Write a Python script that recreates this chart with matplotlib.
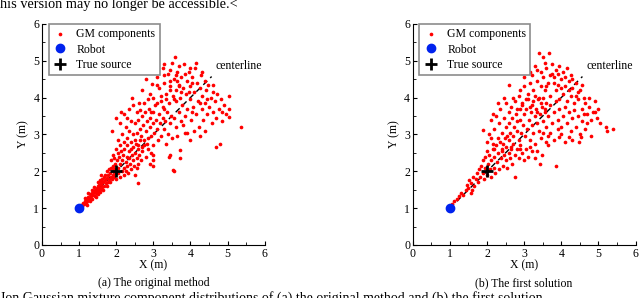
import numpy as np
import matplotlib
matplotlib.use('Agg')
import matplotlib.pyplot as plt

plt.rcParams['font.family'] = ['Liberation Serif', 'DejaVu Serif']

# GM components, panel (a)
gm_a = [
    (1.05,1.08),(1.08,1.05),(1.1,1.15),(1.12,1.1),(1.15,1.2),(1.18,1.14),(1.2,1.25),(1.22,1.18),(1.25,1.3),(1.27,1.22),
    (1.3,1.28),(1.3,1.38),(1.33,1.32),(1.35,1.25),(1.36,1.42),(1.38,1.35),(1.4,1.45),(1.42,1.32),(1.43,1.5),(1.45,1.4),
    (1.47,1.55),(1.48,1.45),(1.5,1.38),(1.5,1.6),(1.52,1.5),(1.54,1.62),(1.55,1.45),(1.57,1.55),(1.58,1.7),(1.6,1.52),
    (1.6,1.65),(1.62,1.78),(1.63,1.58),(1.65,1.7),(1.66,1.85),(1.68,1.6),(1.7,1.75),(1.7,1.9),(1.72,1.68),(1.74,1.82),
    (1.75,2.0),(1.77,1.72),(1.78,1.9),(1.8,1.8),(1.8,2.05),(1.82,1.7),(1.84,1.95),(1.85,1.85),(1.86,2.1),(1.88,1.78),
    (1.9,2.0),(1.9,1.9),(1.92,2.15),(1.94,1.85),(1.95,2.05),(1.97,1.95),(1.98,2.2),(1.25,1.4),(1.4,1.58),(1.55,1.75),
    (1.45,1.3),(1.65,1.5),(1.2,1.08),(1.35,1.5),(1.6,1.9),(1.3,1.18),(1.75,1.6),(1.5,1.7),(1.15,1.28),
    (2.0,1.8),(2.02,2.3),(2.05,2.1),(2.05,1.95),(2.08,2.4),(2.1,2.2),(2.1,1.85),(2.12,2.55),(2.15,2.0),(2.15,2.3),
    (2.18,2.45),(2.2,2.1),(2.2,1.9),(2.22,2.6),(2.25,2.25),(2.25,2.0),(2.28,2.4),(2.3,2.15),(2.3,2.7),(2.32,1.95),
    (2.35,2.35),(2.35,2.55),(2.38,2.2),(2.4,2.8),(2.4,2.05),(2.42,2.45),(2.45,2.3),(2.45,2.65),(2.48,2.15),(2.5,2.5),
    (2.5,1.9),(2.52,2.75),(2.55,2.35),(2.58,2.6),(2.6,2.2),(2.58,1.67),(2.62,2.45),(2.65,2.85),(2.68,2.3),(2.7,2.55),
    (2.55,2.08),(2.75,2.7),(2.8,2.4),(2.85,2.6),(2.9,2.2),(2.95,2.5),(3.0,2.3),(3.0,2.14),(1.95,2.35),(1.9,2.45),
    (1.85,2.3),(2.0,2.6),(2.1,2.7),(2.05,2.5),(2.98,2.43),(3.44,2.43),(3.52,2.03),(3.71,2.35),
    (2.3,2.9),(2.35,3.1),(2.4,2.6),(2.45,3.0),(2.5,3.3),(2.5,2.85),(2.55,3.05),(2.6,3.4),(2.6,2.7),(2.65,3.15),
    (2.68,2.95),(2.7,3.5),(2.72,3.25),(2.75,2.85),(2.78,3.6),(2.8,3.1),(2.82,3.35),(2.85,2.9),(2.88,3.7),(2.9,3.2),
    (2.92,3.45),(2.95,2.95),(2.98,3.3),(3.0,3.6),(3.0,2.7),(3.03,3.05),(3.05,3.8),(3.08,3.4),(3.1,3.15),(3.12,2.85),
    (3.15,3.55),(3.18,3.3),(3.2,3.9),(3.2,2.95),(3.25,3.45),(3.28,3.7),(3.3,3.15),(3.32,3.35),(3.35,2.75),(3.38,3.6),
    (3.4,3.0),(3.42,3.85),(3.45,3.3),(3.48,3.5),(3.5,2.9),(2.2,2.8),(2.25,3.2),(2.15,3.0),(2.1,3.3),(2.0,3.45),
    (2.05,2.85),(1.88,3.1),(2.3,3.45),(2.4,3.35),(2.55,3.6),(2.2,3.55),(2.45,3.8),(2.62,3.85),(2.35,3.7),(2.12,3.6),
    (2.7,2.65),(2.82,2.75),
    (3.58,5.1),(3.06,4.7),(2.96,4.38),(2.42,4.0),(2.7,4.2),(2.8,4.5),(2.9,4.1),(3.1,4.55),(3.15,4.25),(3.2,4.05),
    (3.25,4.8),(3.3,4.4),(3.35,4.1),(3.4,4.65),(3.45,4.3),(3.5,4.95),(3.52,4.05),(3.55,4.5),(3.6,4.2),(3.62,3.9),
    (3.65,4.7),(3.68,4.35),(3.7,3.6),(3.72,4.0),(3.75,4.55),(3.78,3.8),(3.8,4.25),(3.82,4.9),(3.85,3.5),(3.88,4.1),
    (3.9,4.45),(3.92,3.7),(3.95,4.7),(3.98,3.95),(4.0,4.3),(4.02,3.4),(4.05,4.55),(4.08,3.75),(4.1,4.15),(4.12,4.8),
    (4.15,3.55),(4.18,4.4),(4.2,3.9),(4.22,3.2),(4.25,4.25),(4.28,4.6),(4.3,3.7),(4.32,4.05),(4.35,3.4),(4.38,4.45),
    (4.4,3.85),(4.42,4.2),(4.45,3.55),(4.48,4.35),(4.5,3.75),(4.55,4.0),(4.58,3.3),(4.6,4.15),(4.62,3.6),(4.65,3.9),
    (4.7,3.45),(4.72,4.1),(4.78,3.7),(4.82,3.95),(4.85,3.35),(4.9,3.8),(4.95,3.55),(5.05,4.03),(5.05,3.68),(5.03,3.46),
    (5.35,3.2),(4.68,2.65),(4.79,2.73),(4.38,3.08),(3.98,2.84),(3.71,2.57),(3.55,2.0),(3.41,2.4),(3.6,3.2),(3.65,2.95),
    (3.8,3.25),(3.9,3.05),(3.55,3.45),(3.75,3.35),(4.1,3.1),(4.25,2.95),(3.3,4.9),(3.45,4.75),(3.7,4.85),(4.0,4.8),
    (4.3,4.7),(3.6,4.6),(3.35,3.95),(2.85,3.95),(3.0,4.0),(3.1,3.85),(2.65,3.65),(4.15,4.95),
    (3.3,4.6),(3.45,4.45),(3.65,4.45),(3.85,4.65),(4.05,4.4),(3.95,4.15),(3.75,4.15),(3.55,3.95),(3.25,3.75),(2.95,3.6),
    (3.85,3.05),(4.05,3.6),(4.25,3.85),(4.45,3.95),(4.6,4.35),(4.85,3.6),(3.1,4.35),(2.75,3.85),(3.45,4.2),(3.7,4.3),
]

# GM components, panel (b)
gm_b = [
    (1.05,1.1),(1.12,1.2),(1.2,1.25),(1.25,1.32),(1.3,1.4),(1.35,1.35),(1.42,1.5),(1.45,1.62),(1.5,1.55),(1.52,1.75),
    (1.58,1.68),(1.6,1.48),(1.62,1.85),(1.65,1.6),(1.7,1.78),(1.72,1.95),(1.75,1.7),(1.78,2.05),(1.8,1.85),(1.85,2.15),
    (1.88,1.95),(1.9,2.3),(1.92,1.8),(1.95,2.1),(1.58,1.4),
    (2.0,1.9),(2.02,2.2),(2.05,2.45),(2.08,2.05),(2.1,1.85),(2.12,2.3),(2.15,2.6),(2.18,2.1),(2.2,2.4),(2.22,1.95),
    (2.25,2.7),(2.28,2.25),(2.3,2.5),(2.32,2.05),(2.35,2.8),(2.38,2.35),(2.4,2.6),(2.42,2.15),(2.45,2.45),(2.48,2.9),
    (2.5,2.3),(2.52,2.65),(2.55,2.1),(2.58,2.5),(2.6,2.85),(2.62,2.35),(2.65,2.6),(2.68,2.2),(2.7,2.75),(2.74,1.84),
    (2.75,2.45),(2.8,2.6),(2.85,2.35),(2.9,2.7),(2.95,2.5),(3.0,2.3),(3.05,2.6),(3.1,2.4),(3.2,2.55),(3.3,2.35),
    (3.47,2.43),(3.44,2.19),(3.87,2.14),(2.0,2.55),(1.95,2.4),
    (1.9,3.13),(2.0,2.8),(2.05,3.0),(2.1,3.4),(2.15,2.75),(2.2,3.15),(2.25,3.5),(2.3,2.9),(2.32,3.3),(2.35,3.7),
    (2.4,3.05),(2.42,2.75),(2.45,3.45),(2.5,3.2),(2.52,3.85),(2.55,2.95),(2.58,3.6),(2.6,3.3),(2.62,3.05),(2.65,3.75),
    (2.68,3.45),(2.7,2.95),(2.72,3.2),(2.75,3.9),(2.78,3.55),(2.8,3.1),(2.82,3.35),(2.85,2.85),(2.88,3.7),(2.9,3.4),
    (2.92,3.05),(2.95,3.85),(2.98,3.25),(3.0,3.55),(3.02,2.95),(3.05,3.7),(3.08,3.15),(3.1,3.95),(3.12,3.4),(3.15,2.85),
    (3.18,3.6),(3.2,3.25),(3.22,3.8),(3.25,3.05),(3.28,3.5),(3.3,2.75),(3.32,3.7),(3.35,3.3),(3.38,3.95),(3.4,3.1),
    (3.42,3.55),(3.45,2.9),(3.48,3.75),(3.5,3.35),(3.52,3.05),(3.55,3.6),(3.58,2.8),(3.6,3.2),(2.15,3.55),(2.3,3.85),
    (2.45,4.0),(2.58,4.35),(2.6,4.7),(2.2,2.6),(2.4,2.55),(2.65,2.65),(2.9,2.6),(3.15,2.65),(3.35,2.55),(3.65,2.7),
    (2.1,2.9),
    (3.39,5.2),(3.66,5.2),(3.5,5.1),(3.55,4.95),(3.3,4.85),(3.45,4.7),(3.6,4.8),(3.75,4.9),(3.85,4.75),(3.95,4.85),
    (4.05,4.7),(4.15,4.8),(4.25,4.6),(3.2,4.6),(3.35,4.45),(3.5,4.55),(3.65,4.4),(3.8,4.55),(3.9,4.35),(4.0,4.5),
    (4.1,4.3),(4.2,4.45),(4.3,4.25),(4.4,4.4),(4.5,4.2),(4.55,4.35),(4.6,4.0),(3.0,4.3),(3.1,4.1),(3.25,4.2),
    (3.4,4.0),(3.55,4.2),(3.7,4.05),(3.85,4.2),(3.95,3.95),(4.05,4.1),(4.15,3.9),(4.25,4.05),(4.35,3.85),(4.45,3.95),
    (4.55,3.7),(4.65,3.85),(4.7,3.55),(4.75,3.75),(4.8,3.4),(4.9,3.9),(4.85,3.6),(4.95,3.45),(5.05,3.3),(5.2,3.2),
    (5.38,3.15),(5.0,3.7),(2.85,4.05),(2.95,3.8),(3.05,3.95),(3.15,3.75),(3.25,3.9),(3.35,3.6),(3.45,3.85),(3.55,3.7),
    (3.65,3.5),(3.7,3.8),(3.75,3.3),(3.8,3.6),(3.85,3.9),(3.9,3.4),(3.95,3.7),(4.0,3.2),(4.05,3.5),(4.1,3.75),
    (4.15,3.3),(4.2,3.6),(4.25,3.1),(4.3,3.45),(4.35,3.65),(4.4,3.2),(4.45,3.5),(4.5,3.0),(4.55,3.35),(4.6,3.55),
    (4.65,3.15),(4.7,3.3),(4.54,2.92),(4.49,2.79),(4.81,2.97),(5.24,3.08),(4.22,2.92),(3.95,2.92),(3.7,3.05),(3.8,2.85),
    (4.0,3.0),(4.1,2.8),(4.3,2.85),(3.65,2.95),(3.9,3.15),(3.6,4.3),(3.75,4.65),(3.45,4.3),(3.3,4.05),(3.15,4.4),
    (3.9,4.65),(4.1,4.55),(4.3,4.5),(4.45,4.15),(4.0,4.25),(3.8,4.4),(3.7,4.6),(3.5,4.0),(3.6,3.85),(4.2,4.2),
    (4.4,4.05),(4.75,4.0),(4.9,3.6),(2.8,3.7),(2.7,4.0),(2.9,4.2),(3.0,4.55),(3.15,4.7),(3.35,4.75),
]

robot = (1, 1)
source = (2, 2)
centerline_x = [1, 4.57]
centerline_y = [1, 4.57]
label_pos = (4.68, 4.68)
captions = ['(a) The original method', '(b) The first solution']

fig = plt.figure(figsize=(6.4, 2.98), dpi=100)
ax1 = fig.add_axes([0.0656, 0.178, 0.348, 0.742])
ax2 = fig.add_axes([0.645, 0.178, 0.348, 0.742])

for ax, pts, cap in zip([ax1, ax2], [gm_a, gm_b], captions):
    xs = [p[0] for p in pts]
    ys = [p[1] for p in pts]
    ax.plot(centerline_x, centerline_y, color='k', lw=1.0, dashes=(4, 3), zorder=2)
    ax.scatter(xs, ys, s=7, color='red', linewidths=0, label='GM components', zorder=3)
    ax.plot(*robot, 'o', color='#0022ee', ms=6, label='Robot', zorder=4)
    ax.plot(*source, '+', color='k', ms=8, mew=2, label='True source', zorder=5)
    ax.text(label_pos[0], label_pos[1], 'centerline', fontsize=8.5, va='bottom', ha='left')

    ax.set_xlim(0, 6)
    ax.set_ylim(0, 6)
    ax.set_xticks(range(7))
    ax.set_yticks(range(7))
    ax.set_xticks(np.arange(0.5, 6, 1), minor=True)
    ax.set_yticks(np.arange(0.5, 6, 1), minor=True)
    ax.tick_params(which='major', direction='in', length=3, labelsize=8.5, pad=2)
    ax.tick_params(which='minor', direction='in', length=2)
    ax.spines['top'].set_visible(False)
    ax.spines['right'].set_visible(False)
    ax.set_xlabel('X (m)', fontsize=8.5, labelpad=0)
    ax.set_ylabel('Y (m)', fontsize=8.5, labelpad=3)
    ax.text(0.5, -0.172, cap, transform=ax.transAxes, ha='center', va='center', fontsize=8.5)

    leg = ax.legend(loc='upper left', bbox_to_anchor=(0.03, 1.0), fontsize=8.5, frameon=True,
                    fancybox=False, handlelength=1.2, handletextpad=0.8, borderpad=0.35,
                    labelspacing=0.3, markerscale=1.0, borderaxespad=0, framealpha=1)
    leg.get_frame().set_edgecolor('0.55')
    leg.get_frame().set_linewidth(1.2)

fig.text(0.0, 1 - 8 / 298, 'his version may no longer be accessible.<', fontsize=10.3,
         ha='left', va='baseline')
fig.text(0.0, 0.022, 'Jon Gaussian mixture component distributions of (a) the original method and (b) the first solution.',
         fontsize=10, ha='left', va='top')

fig.savefig('out.png', dpi=100)
